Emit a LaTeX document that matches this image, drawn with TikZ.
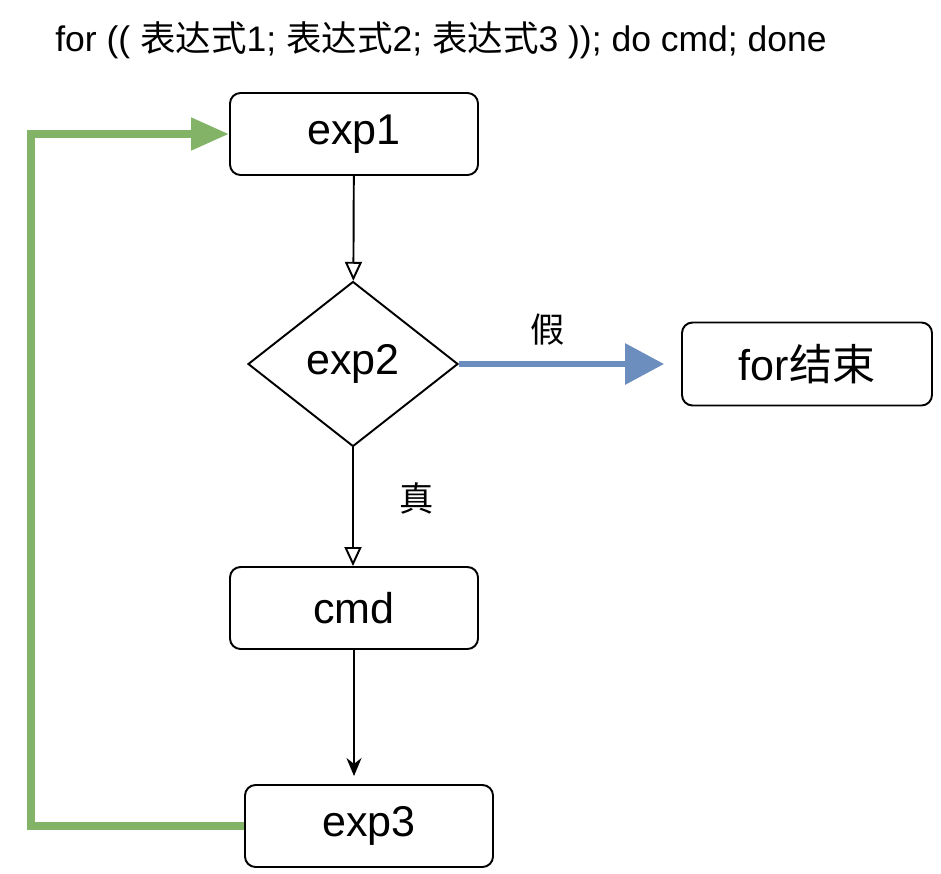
\documentclass[tikz,border=0pt]{standalone}
\usepackage{fontspec}
\setmainfont{Liberation Sans}
\newfontfamily\cjk{Noto Sans CJK SC}
\usepackage{xcolor}
\usetikzlibrary{arrows.meta,positioning,shapes.geometric}
\definecolor{falseblue}{HTML}{6C8EBF}
\definecolor{loopgreen}{HTML}{82B366}

\begin{document}
\begin{tikzpicture}[
    font=\fontsize{24.5}{28}\selectfont,
    stepbox/.style={draw,line width=1.1pt,rounded corners=6pt,fill=white,
                    minimum width=4.96cm,minimum height=1.64cm,align=center},
    test/.style={draw,line width=1.1pt,diamond,aspect=1.27,inner sep=0pt,
                 minimum width=4.2cm,minimum height=3.3cm},
    flow/.style={-{Triangle[open,length=3.8mm,width=3.4mm,fill=white]},line width=1.1pt},
    arr/.style={-{Stealth[length=3.6mm,width=3mm]},line width=1.1pt},
    lbl/.style={font=\fontsize{19.5}{22}\selectfont\cjk},
  ]
  \useasboundingbox (0,0) rectangle (18.82,-17.46);

  \node[font=\fontsize{20.2}{24}\selectfont] (title) at (8.82,-0.80)
    {for (( {\cjk 表达式}1; {\cjk 表达式}2; {\cjk 表达式}3 )); do cmd; done};

  \node[stepbox] (exp1) at (7.08,-2.68) {exp1};
  \node[test] (exp2) at (7.06,-7.28) {exp2};
  \node[stepbox,minimum width=5.0cm,minimum height=1.66cm] (done) at (16.14,-7.28) {for{\cjk 结束}};
  \node[stepbox] (cmd) at (7.08,-12.16) {cmd};
  \node[stepbox] (exp3) at (7.38,-16.52) {exp3};
  \coordinate (bl) at (0.62,-16.52);
  \coordinate (tl) at (0.62,-2.68);

  \draw[flow] (exp1) -- (exp2);
  \draw[flow] (exp2) -- node[lbl,pos=0.43,right=0.8cm] {真} (exp2 |- cmd.north);
  \draw[arr,shorten >=0.16cm] (cmd) -- (cmd |- exp3.north);
  \draw[-{Triangle[length=7.8mm,width=8mm]},line width=3.6pt,falseblue,shorten >=0.34cm]
    (exp2.east) -- node[lbl,pos=0.4,above=0.2cm,black] {假} (done.west);
  \draw[-{Triangle[length=7.6mm,width=6.2mm]},line width=4.5pt,loopgreen]
    (exp3.west) -- (bl) -- (tl) -- (exp1.west);
\end{tikzpicture}
\end{document}
